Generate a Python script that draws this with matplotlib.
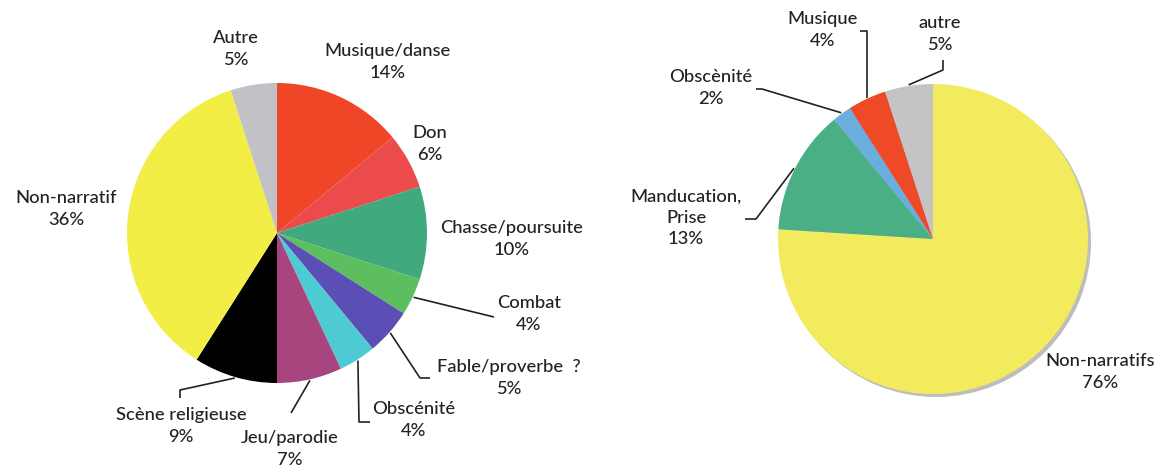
import numpy as np
import matplotlib
matplotlib.use("Agg")
import matplotlib.pyplot as plt

plt.rcParams['font.family'] = ['Lato', 'DejaVu Sans']

# left pie: subjects of the scenes
left_labels = ["Musique/danse", "Don", "Chasse/poursuite", "Combat", "Fable/proverbe  ?",
               "Obscénité", "Jeu/parodie", "Scène religieuse", "Non-narratif", "Autre"]
left_values = [14, 6, 10, 4, 5, 4, 7, 9, 36, 5]
left_colors = ["#ee4627", "#ec4b4b", "#40a97e", "#5cbe5e", "#5b4fb5",
               "#4ecad3", "#a8457e", "#000000", "#f2ee45", "#c2c2c6"]

# right pie
right_labels = ["Non-narratifs", "Manducation,\nPrise", "Obscènité", "Musique", "autre"]
right_values = [76, 13, 2, 4, 5]
right_colors = ["#f2eb5e", "#4baf86", "#6aaee0", "#ee4a27", "#c4c4c6"]

W, H = 1155, 470
def Y(y):
    return H - y

fig = plt.figure(figsize=(W / 100, H / 100), dpi=100)
ax = fig.add_axes([0, 0, 1, 1])

# geometry (pixels)
lc, lr = (277, Y(233)), 150
rc, rr = (933, Y(239)), 155

# label text centres, px
left_pos = [(388, 62), (430, 144), (512, 239), (529, 314), (509, 378),
            (414, 420), (290, 449), (181, 426), (66, 209), (236, 49)]
right_pos = [(1100, 372), (686, 218), (711, 88), (823, 30), (940, 34)]

# leader line bends/ends (px), None = no leader
left_leads = [None, None, None, [(494, 317)], [(420, 378), (430, 378)],
              [(359, 422), (370, 422)], [(291, 413)], [(180, 390), (180, 398)], None, None]
right_leads = [None, [(756, 219), (745, 219)], [(762, 89), (756, 89)],
               ["vx", (860, 31)], [(943, 70), (943, 60)]]

# shadow of the right pie
ax.pie([1], colors=["#bdbdbd"], center=(rc[0] + 3, rc[1] - 3), radius=rr,
       wedgeprops=dict(linewidth=0))

lw, _ = ax.pie(left_values, colors=left_colors, startangle=90, counterclock=False,
               center=lc, radius=lr, wedgeprops=dict(linewidth=0))
rw, _ = ax.pie(right_values, colors=right_colors, startangle=90, counterclock=False,
               center=rc, radius=rr, wedgeprops=dict(linewidth=0))

def draw_leads(wedges, center, r, leads):
    for w, lead in zip(wedges, leads):
        if lead is None:
            continue
        a = np.deg2rad((w.theta1 + w.theta2) / 2)
        x0 = center[0] + (r + 1) * np.cos(a)
        y0 = center[1] + (r + 1) * np.sin(a)
        xs, ys = [x0], [y0]
        for p in lead:
            if p == "vx":
                continue
            if lead[0] == "vx" and len(xs) == 1:
                xs.append(x0)
                ys.append(Y(p[1]))
            xs.append(p[0])
            ys.append(Y(p[1]))
        ax.plot(xs, ys, color="#222222", lw=1.2, solid_capstyle="butt")

draw_leads(lw, lc, lr, left_leads)
draw_leads(rw, rc, rr, right_leads)

def put_labels(labels, values, pos):
    for lab, v, (x, y) in zip(labels, values, pos):
        ax.text(x, Y(y), f"{lab}\n{v}%", ha="center", va="center", fontsize=13.2,
                fontweight="medium", color="#222222", linespacing=1.4,
                multialignment="center")

put_labels(left_labels, left_values, left_pos)
put_labels(right_labels, right_values, right_pos)

ax.set_xlim(0, W)
ax.set_ylim(0, H)
ax.set_aspect("equal")
ax.axis("off")

fig.savefig("out.png", dpi=100)
